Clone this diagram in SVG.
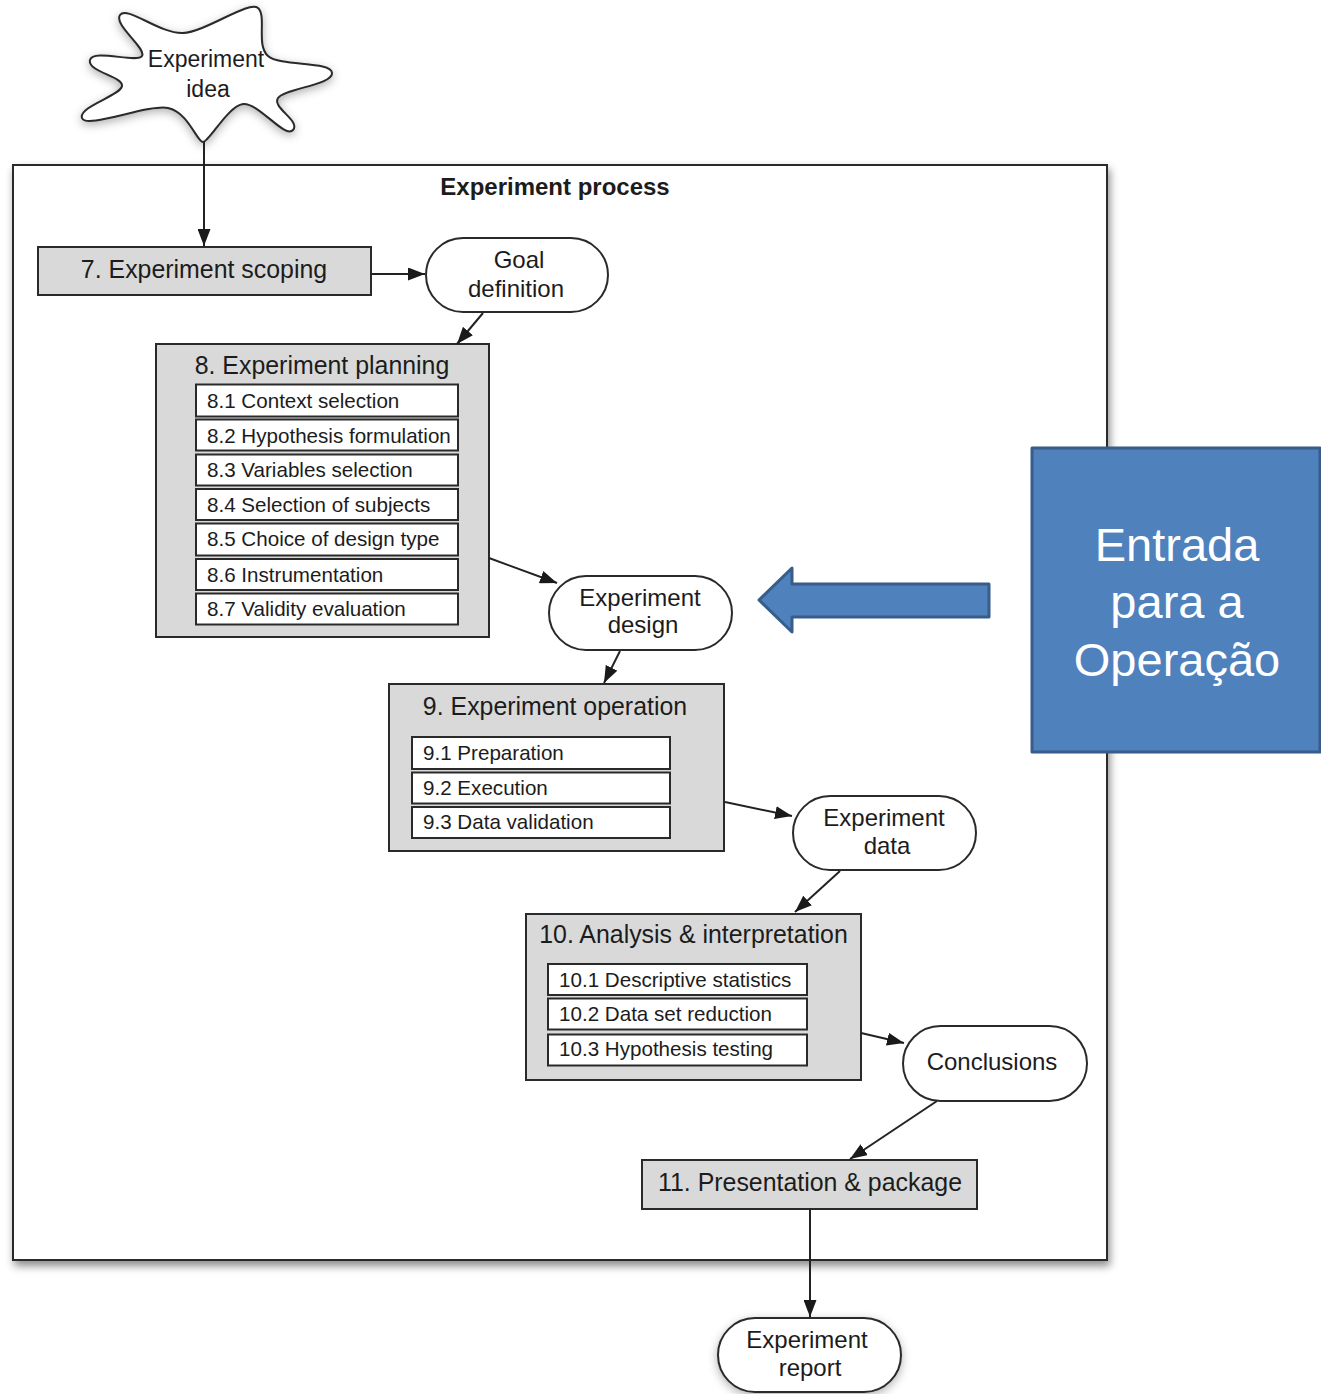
<svg xmlns="http://www.w3.org/2000/svg" width="1321" height="1394" viewBox="0 0 1321 1394">
<defs>
<style>
text{font-family:"Liberation Sans",Arial,sans-serif;fill:#1c1c1c}
.hd{font-size:24.9px;text-anchor:middle}
.ov{font-size:24px;text-anchor:middle}
.sub{font-size:20.6px}
.gbox{fill:#d9d9d9;stroke:#2a2a2a;stroke-width:2}
.wbox{fill:#ffffff;stroke:#2a2a2a;stroke-width:2}
.oval{fill:#ffffff;stroke:#2a2a2a;stroke-width:2}
.con line{stroke:#222;stroke-width:2;marker-end:url(#ah)}
.blue{fill:#4f81bd;stroke:#385d8a;stroke-width:3;stroke-linejoin:round}
.wt{fill:#ffffff;font-size:47px;text-anchor:middle}
</style>
<marker id="ah" markerUnits="userSpaceOnUse" markerWidth="17" markerHeight="13" refX="17" refY="6.5" orient="auto">
<path d="M0,0 L17,6.5 L0,13 z" fill="#1a1a1a"/>
</marker>
<filter id="sh" x="-10%" y="-10%" width="120%" height="120%">
<feDropShadow dx="2" dy="5" stdDeviation="4" flood-color="#000" flood-opacity="0.45"/>
</filter>
<filter id="sh2" x="-20%" y="-20%" width="140%" height="140%">
<feDropShadow dx="0" dy="3" stdDeviation="5" flood-color="#000" flood-opacity="0.3"/>
</filter>
</defs>
<rect width="1321" height="1394" fill="#ffffff"/>

<g id="process">
<rect x="13" y="165" width="1094" height="1095" fill="#ffffff" stroke="#2a2a2a" stroke-width="2" filter="url(#sh)"/>
<text x="555" y="195" style="font-size:24px;font-weight:bold;text-anchor:middle">Experiment process</text>
</g>

<g id="idea">
<path filter="url(#sh2)" fill="#ffffff" stroke="#2a2a2a" stroke-width="2" d="M120,15 C126.8,5.2 160,34.2 183,33 C206,31.8 249,0.1 258,8 C267,15.9 255.7,45.2 268,56 C280.3,66.8 331.2,61 332,73 C332.8,85 284.5,88.5 278,98 C271.5,107.5 301,121 293,130 C285,139 258,102 243,104 C228,106 209,142 203,142 C197,142 188.2,112 168,108 C147.8,104 85.8,129.4 82,118 C78.2,106.6 120.7,95.7 122,86 C123.3,76.3 87,71.6 90,60 C93,48.4 137,63.5 142,56 C147,48.5 113.2,24.8 120,15 Z"/>
<text class="ov" x="206" y="67" style="font-size:23px">Experiment</text>
<text class="ov" x="208" y="97" style="font-size:23px">idea</text>
</g>

<g id="scoping">
<rect class="gbox" x="38" y="247" width="333" height="48"/>
<text class="hd" x="204" y="278">7. Experiment scoping</text>
</g>

<g id="goal">
<rect class="oval" x="426" y="238" width="182" height="74" rx="37"/>
<text class="ov" x="519" y="268">Goal</text>
<text class="ov" x="516" y="297">definition</text>
</g>

<g id="planning">
<rect class="gbox" x="156" y="344" width="333" height="293"/>
<text class="hd" x="322" y="374">8. Experiment planning</text>
<rect class="wbox" x="196" y="384.5" width="262" height="32"/>
<text class="sub" x="207" y="408">8.1 Context selection</text>
<rect class="wbox" x="196" y="419.5" width="262" height="31"/>
<text class="sub" x="207" y="443">8.2 Hypothesis formulation</text>
<rect class="wbox" x="196" y="454.5" width="262" height="31"/>
<text class="sub" x="207" y="477">8.3 Variables selection</text>
<rect class="wbox" x="196" y="489" width="262" height="31"/>
<text class="sub" x="207" y="512">8.4 Selection of subjects</text>
<rect class="wbox" x="196" y="523.5" width="262" height="32"/>
<text class="sub" x="207" y="546">8.5 Choice of design type</text>
<rect class="wbox" x="196" y="559" width="262" height="31"/>
<text class="sub" x="207" y="582">8.6 Instrumentation</text>
<rect class="wbox" x="196" y="593.5" width="262" height="31"/>
<text class="sub" x="207" y="616">8.7 Validity evaluation</text>
</g>

<g id="design">
<rect class="oval" x="549" y="576" width="183" height="74" rx="37"/>
<text class="ov" x="640" y="606">Experiment</text>
<text class="ov" x="643" y="633">design</text>
</g>

<g id="operation">
<rect class="gbox" x="389" y="684" width="335" height="167"/>
<text class="hd" x="555" y="715">9. Experiment operation</text>
<rect class="wbox" x="412" y="737" width="258" height="32"/>
<text class="sub" x="423" y="760">9.1 Preparation</text>
<rect class="wbox" x="412" y="772.5" width="258" height="31"/>
<text class="sub" x="423" y="795">9.2 Execution</text>
<rect class="wbox" x="412" y="807" width="258" height="31"/>
<text class="sub" x="423" y="829">9.3 Data validation</text>
</g>

<g id="data">
<rect class="oval" x="793" y="796" width="183" height="74" rx="37"/>
<text class="ov" x="884" y="826">Experiment</text>
<text class="ov" x="887" y="854">data</text>
</g>

<g id="analysis">
<rect class="gbox" x="526" y="914" width="335" height="166"/>
<text class="hd" x="693.5" y="943">10. Analysis &amp; interpretation</text>
<rect class="wbox" x="548" y="964" width="259" height="31"/>
<text class="sub" x="559" y="987">10.1 Descriptive statistics</text>
<rect class="wbox" x="548" y="998.5" width="259" height="31"/>
<text class="sub" x="559" y="1021">10.2 Data set reduction</text>
<rect class="wbox" x="548" y="1034.5" width="259" height="31"/>
<text class="sub" x="559" y="1056">10.3 Hypothesis testing</text>
</g>

<g id="conclusions">
<rect class="oval" x="903" y="1026" width="184" height="75" rx="37.5"/>
<text class="ov" x="992" y="1070">Conclusions</text>
</g>

<g id="presentation">
<rect class="gbox" x="642" y="1160" width="335" height="49"/>
<text class="hd" x="810" y="1191">11. Presentation &amp; package</text>
</g>

<g id="report">
<rect class="oval" x="718" y="1318" width="183" height="74" rx="37" filter="url(#sh2)"/>
<text class="ov" x="807" y="1348">Experiment</text>
<text class="ov" x="810" y="1376">report</text>
</g>

<g id="connectors" class="con">
<line x1="204" y1="142" x2="204" y2="246"/>
<line x1="371" y1="274" x2="425" y2="274"/>
<line x1="483" y1="313" x2="457" y2="344"/>
<line x1="489" y1="558" x2="557" y2="583"/>
<line x1="620" y1="651" x2="604" y2="683"/>
<line x1="725" y1="802" x2="792" y2="816"/>
<line x1="840" y1="871" x2="795" y2="912"/>
<line x1="861" y1="1033" x2="904" y2="1043"/>
<line x1="937" y1="1101" x2="850" y2="1159"/>
<line x1="810" y1="1209" x2="810" y2="1317"/>
</g>

<g id="callout">
<polygon class="blue" points="759,600 792,568 792,584 989,584 989,617 792,617 792,632"/>
<rect class="blue" x="1032" y="448" width="288" height="304"/>
<text class="wt" x="1177" y="561">Entrada</text>
<text class="wt" x="1177" y="618">para a</text>
<text class="wt" x="1177" y="676">Operação</text>
</g>
</svg>
